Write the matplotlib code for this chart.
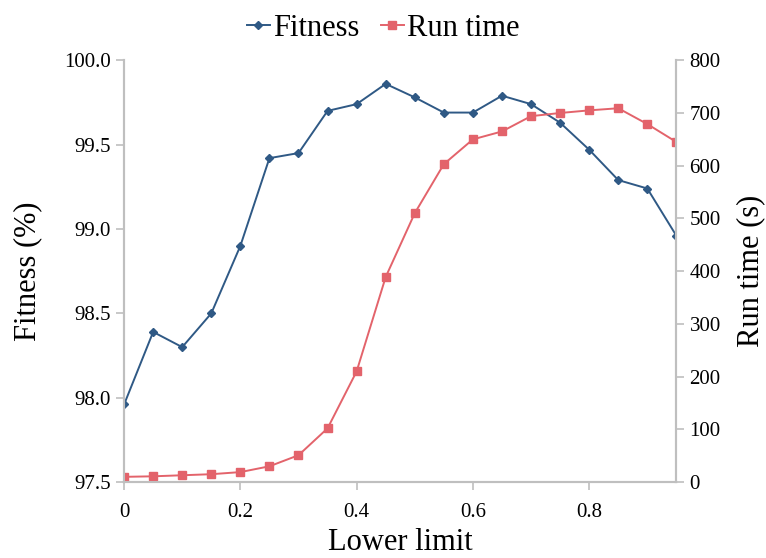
import matplotlib
matplotlib.use('Agg')
import matplotlib.pyplot as plt
import matplotlib.ticker as mticker

lower_limit = [0.0, 0.05, 0.1, 0.15, 0.2, 0.25, 0.3, 0.35, 0.4, 0.45,
               0.5, 0.55, 0.6, 0.65, 0.7, 0.75, 0.8, 0.85, 0.9, 0.95]
fitness = [97.96, 98.39, 98.30, 98.50, 98.90, 99.42, 99.45, 99.70, 99.74, 99.86,
           99.78, 99.69, 99.69, 99.79, 99.74, 99.63, 99.47, 99.29, 99.24, 98.96]
run_time = [10, 11, 13, 15, 19, 30, 51, 102, 210, 389,
            510, 603, 650, 665, 694, 700, 705, 709, 679, 645]

plt.rcParams['font.family'] = ['Liberation Serif', 'DejaVu Serif']
blue = '#2f5985'
red = '#e3636b'
grey = '#bfbfbf'

fig, ax = plt.subplots(figsize=(7.66, 5.58), dpi=100)
fig.subplots_adjust(left=0.162, right=0.883, top=0.892, bottom=0.136)
ax2 = ax.twinx()

l1, = ax.plot(lower_limit, fitness, color=blue, marker='D', markersize=4, linewidth=1.4, label='Fitness')
l2, = ax2.plot(lower_limit, run_time, color=red, marker='s', markersize=6, linewidth=1.4, label='Run time')

ax.set_xlim(0, 0.95)
ax.set_ylim(97.5, 100.0)
ax2.set_ylim(0, 800)
ax.set_xticks([0, 0.2, 0.4, 0.6, 0.8])
ax.set_xticklabels(['0', '0.2', '0.4', '0.6', '0.8'])
ax.yaxis.set_major_locator(mticker.MultipleLocator(0.5))
ax.yaxis.set_major_formatter(mticker.FormatStrFormatter('%.1f'))
ax2.yaxis.set_major_locator(mticker.MultipleLocator(100))

for a in (ax, ax2):
    a.spines['top'].set_visible(False)
    for s in ('left', 'right', 'bottom'):
        a.spines[s].set_color(grey)
        a.spines[s].set_linewidth(1.5)
    a.tick_params(colors=grey, labelcolor='black', labelsize=15, length=6, width=1.2)
ax.tick_params(axis='x', pad=9)

ax.set_xlabel('Lower limit', fontsize=22, labelpad=4)
ax.set_ylabel('Fitness (%)', fontsize=22, labelpad=16)
ax2.set_ylabel('Run time (s)', fontsize=22, labelpad=11)

fig.legend(handles=[l1, l2], loc='upper center', bbox_to_anchor=(0.5, 1.025), ncol=2,
           frameon=False, fontsize=22, handlelength=0.75, handletextpad=0.1, columnspacing=0.7)

fig.savefig('out.png', dpi=100)
